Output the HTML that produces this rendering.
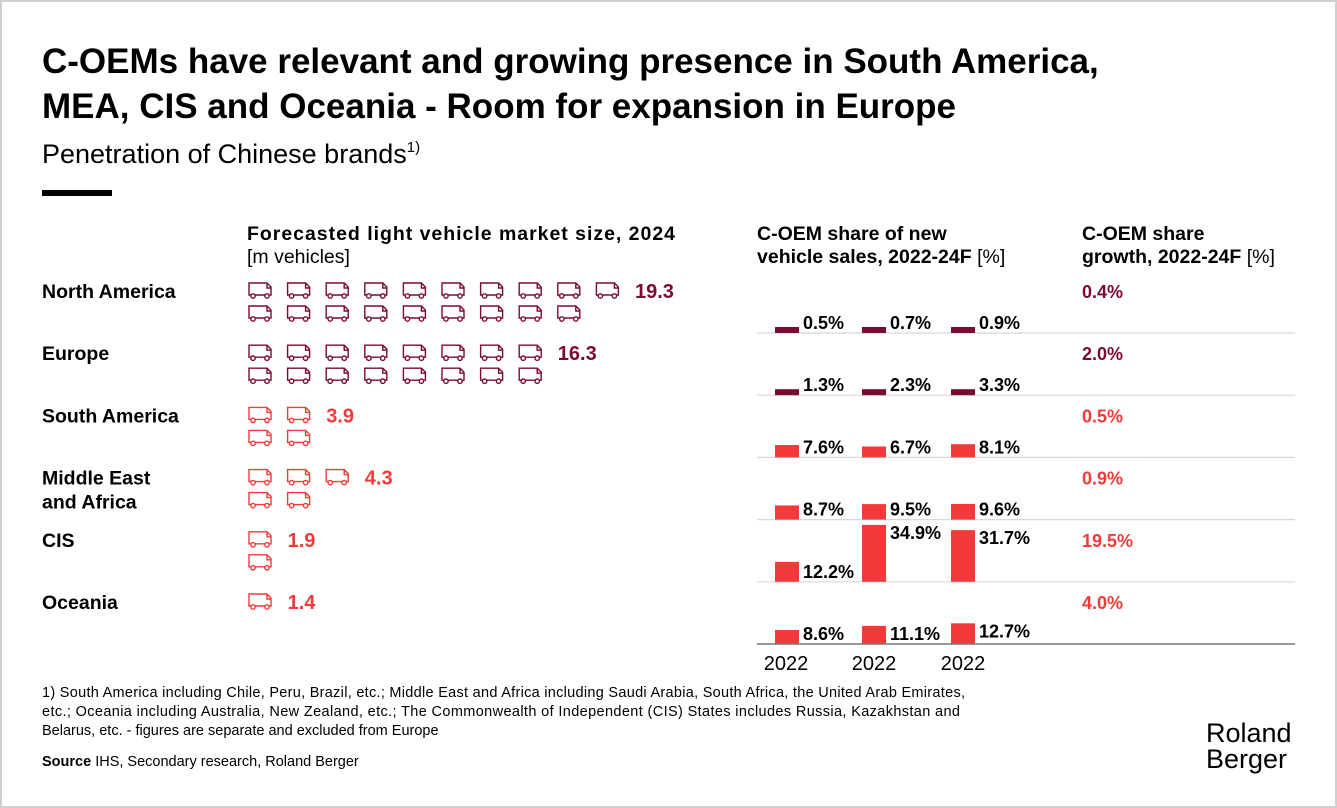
<!DOCTYPE html>
<html><head><meta charset="utf-8"><style>
body{margin:0;background:#fff}
svg{display:block;font-family:"Liberation Sans",sans-serif}
</style></head><body>
<svg width="1337" height="808" viewBox="0 0 1337 808">
<rect x="1" y="1" width="1335" height="806" fill="#fff" stroke="#cfcfcf" stroke-width="2"/>
<text x="42" y="73" font-size="35" font-weight="bold" fill="#000">C-OEMs have relevant and growing presence in South America,</text>
<text x="42" y="118" font-size="35" font-weight="bold" fill="#000">MEA, CIS and Oceania - Room for expansion in Europe</text>
<text x="42" y="163" font-size="27" fill="#000">Penetration of Chinese brands<tspan font-size="15" dy="-11">1)</tspan></text>
<rect x="42" y="190" width="70" height="6" fill="#000"/>
<g font-size="19.5" font-weight="bold" fill="#000">
<text x="247" y="240" textLength="428">Forecasted light vehicle market size, 2024</text>
<text x="247" y="263" font-weight="normal">[m vehicles]</text>
<text x="757" y="240">C-OEM share of new</text>
<text x="757" y="263">vehicle sales, 2022-24F <tspan font-weight="normal">[%]</tspan></text>
<text x="1082" y="240">C-OEM share</text>
<text x="1082" y="263">growth, 2022-24F <tspan font-weight="normal">[%]</tspan></text>
</g>
<g id="rows"></g>
<line x1="757" y1="644" x2="1295" y2="644" stroke="#777" stroke-width="1.5"/>
<g font-size="20" fill="#000">
<text x="786" y="670" text-anchor="middle">2022</text>
<text x="874" y="670" text-anchor="middle">2022</text>
<text x="963" y="670" text-anchor="middle">2022</text>
</g>
<g font-size="14.5" fill="#000">
<text x="42" y="697" textLength="923">1) South America including Chile, Peru, Brazil, etc.; Middle East and Africa including Saudi Arabia, South Africa, the United Arab Emirates,</text>
<text x="42" y="716" textLength="918">etc.; Oceania including Australia, New Zealand, etc.; The Commonwealth of Independent (CIS) States includes Russia, Kazakhstan and</text>
<text x="42" y="735">Belarus, etc. - figures are separate and excluded from Europe</text>
<text x="42" y="766"><tspan font-weight="bold">Source</tspan> IHS, Secondary research, Roland Berger</text>
</g>
<text x="1206" y="742" font-size="27" fill="#000">Roland</text>
<text x="1206" y="768" font-size="27" fill="#000">Berger</text>
</svg>
<script>
const regions=["North America","Europe","South America","Middle East|and Africa","CIS","Oceania"];
const marketSize=[19.3,16.3,3.9,4.3,1.9,1.4];
const iconsTop=[10,8,2,3,1,1];
const iconsBottom=[9,8,2,2,1,0];
const share2022=[0.5,1.3,7.6,8.7,12.2,8.6];
const share2023=[0.7,2.3,6.7,9.5,34.9,11.1];
const share2024=[0.9,3.3,8.1,9.6,31.7,12.7];
const growth=[0.4,2.0,0.5,0.9,19.5,4.0];
const NS="http://www.w3.org/2000/svg";
const g=document.getElementById('rows');
function el(t,a,p){const e=document.createElementNS(NS,t);for(const k in a)e.setAttribute(k,a[k]);(p||g).appendChild(e);return e;}
const rowBottom=i=>333+i*62.2;
const yScale=v=>Math.max(6,v*1.63);
const colX=[775,862,951];
function truck(x,y,c){
  const t=el('g',{transform:`translate(${x},${y})`,fill:'none',stroke:c,'stroke-width':'1.4'});
  
  
  el('path',{d:'M1 2 h18 l4 4 v8 h-22 z M19 2 v5 h4'},t);
  el('circle',{cx:5,cy:15,r:2.2,fill:'#fff'},t);
  el('circle',{cx:19,cy:15,r:2.2,fill:'#fff'},t);
}
regions.forEach((r,i)=>{
  const c=i<2?'#7b0a33':'#f23a3a';
  const top=rowBottom(i)-62;
  const lines=r.split('|');
  lines.forEach((l,j)=>{
    const t=el('text',{x:42,y:top+27+j*24,'font-size':19.5,'font-weight':'bold',fill:'#000'});
    t.textContent=l;
    
    
  });
  for(let k=0;k<iconsTop[i];k++)truck(248+k*38.6,top+10,c);
  for(let k=0;k<iconsBottom[i];k++)truck(248+k*38.6,top+33,c);
  const mt=el('text',{x:248+iconsTop[i]*38.6+1,y:top+27,'font-size':20,'font-weight':'bold',fill:c});
  mt.textContent=marketSize[i].toFixed(1);
  
  
  if(i<5){const ln=el('line',{x1:757,x2:1295,y1:rowBottom(i),y2:rowBottom(i),stroke:'#d8d8d8','stroke-width':1.2});
    
    }
  [share2022,share2023,share2024].forEach((s,k)=>{
    const h=yScale(s[i]);const yb=rowBottom(i);
    const b=el('rect',{x:colX[k],y:yb-h,width:24,height:h,fill:c});
    
    
    const ty=h>20?yb-h+14:yb-4;
    const t=el('text',{x:colX[k]+28,y:Math.min(ty,yb-4),'font-size':18,'font-weight':'bold',fill:'#000'});
    t.textContent=s[i].toFixed(1)+'%';
    
    
  });
  const gt=el('text',{x:1082,y:top+27,'font-size':18,'font-weight':'bold',fill:c});
  gt.textContent=growth[i].toFixed(1)+'%';
  
  
});
</script>
</body></html>
